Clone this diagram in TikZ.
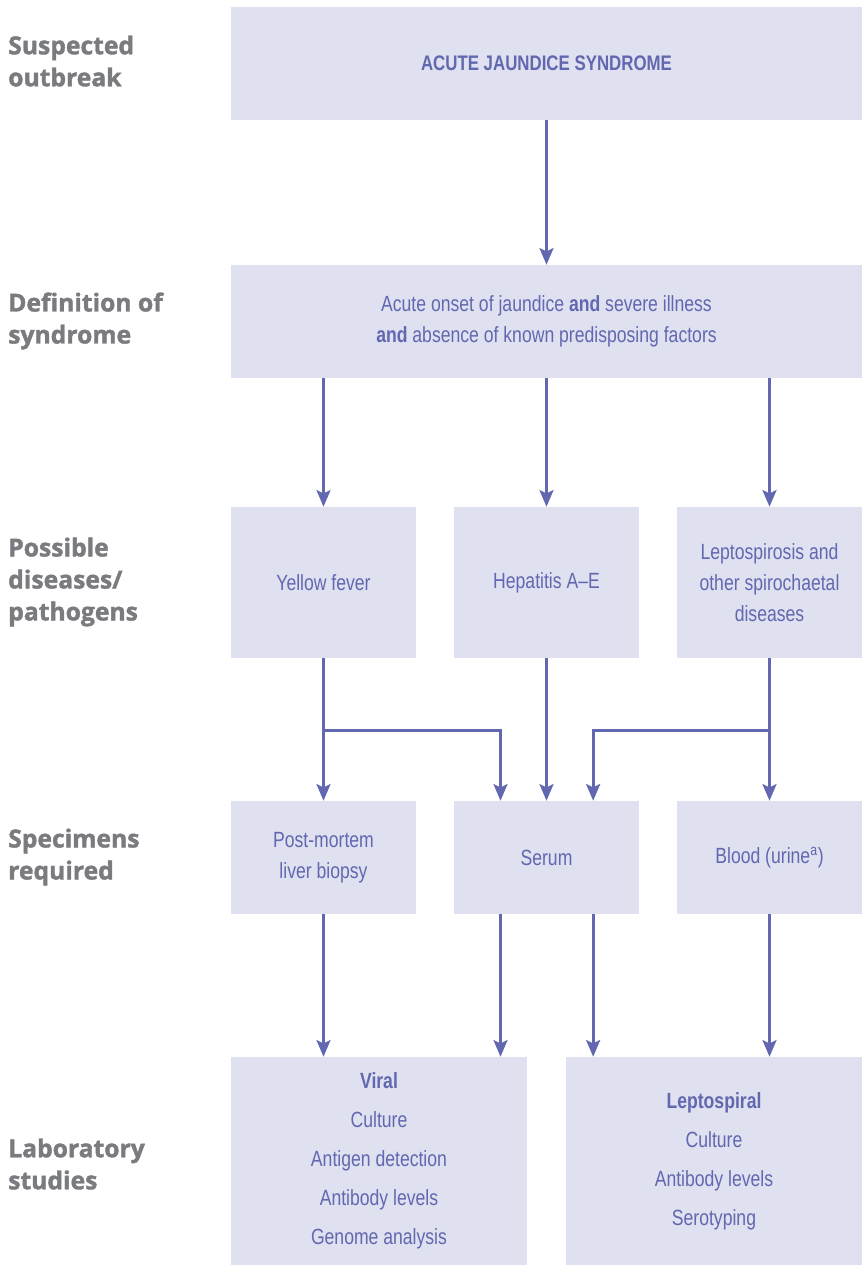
\documentclass[tikz,border=0pt]{standalone}
\usepackage{fontspec}
\setmainfont{Liberation Sans}[FakeStretch=0.8]
\newfontfamily\sidefont{Open Sans}[BoldFeatures={FakeBold=1.6}]
\usetikzlibrary{arrows.meta}

\definecolor{boxfill}{RGB}{223,224,240}
\definecolor{boxtext}{RGB}{98,104,176}
\definecolor{sidegray}{RGB}{122,123,127}

\begin{document}
\begin{tikzpicture}[
        x=0.75pt, y=-0.75pt,
        bnode/.style={rectangle, fill=boxfill, text=boxtext, align=center, inner sep=0pt, font=\fontsize{16.5}{23.5}\selectfont},
        wnode/.style={bnode, minimum width=473.25pt, minimum height=84.75pt},
        dnode/.style={bnode, minimum width=138.75pt, minimum height=113.25pt},
        snode/.style={bnode, minimum width=138.75pt, minimum height=84.75pt},
        labnode/.style={bnode, minimum width=222pt, minimum height=156pt, font=\fontsize{16.5}{29.25}\selectfont},
        side/.style={anchor=west, align=left, inner sep=0pt, text=sidegray, font=\sidefont\bfseries\fontsize{18.5}{24}\selectfont},
        arr/.style={draw=boxtext, line width=2.25pt, -{Stealth[length=12.5pt, width=10.5pt, inset=2.5pt]}},
      ]
        \useasboundingbox (0,0) rectangle (862,1265);

        % row labels
        \node[side] (l1) at (8,61)   {Suspected\\outbreak};
        \node[side] (l2) at (8,321)  {Definition of\\syndrome};
        \node[side] (l3) at (8,582)  {Possible\\diseases/\\pathogens};
        \node[side] (l4) at (8,857)  {Specimens\\required};
        \node[side] (l5) at (8,1164) {Laboratory\\studies};

        \node[wnode] (ajs) at (546.5,63.5)  {\fontsize{15.8}{20}\selectfont\textbf{ACUTE JAUNDICE SYNDROME}};
        \node[wnode] (def) at (546.5,321.5) {Acute onset of jaundice \textbf{and} severe illness\\\textbf{and} absence of known predisposing factors};

        \node[dnode] (yf)  at (323.5,582.5) {Yellow fever};
        \node[dnode] (hep) at (546.5,582.5) {Hepatitis A--E};
        \node[dnode] (lep) at (769.5,582.5) {Leptospirosis and\\other spirochaetal\\diseases};

        \node[snode] (pm)    at (323.5,857.5) {Post-mortem\\liver biopsy};
        \node[snode] (serum) at (546.5,857.5) {Serum};
        \node[snode] (blood) at (769.5,857.5) {Blood (urine\textsuperscript{a})};

        \node[labnode] (viral) at (379,1161) {\textbf{Viral}\\Culture\\Antigen detection\\Antibody levels\\Genome analysis};
        \node[labnode] (lspl)  at (714,1161) {\textbf{Leptospiral}\\Culture\\Antibody levels\\Serotyping};

        \coordinate (yfsplit)  at (323.5,730);
        \coordinate (lepsplit) at (769.5,730);

        \draw[arr] (ajs) -- (def);
        \draw[arr] (def.south -| yf.north)  -- (yf.north);
        \draw[arr] (def) -- (hep);
        \draw[arr] (def.south -| lep.north) -- (lep.north);

        \draw[arr] (yf) -- (pm);
        \draw[arr] (yfsplit) -| ([xshift=-34.5pt]serum.north);
        \draw[arr] (hep) -- (serum);
        \draw[arr] (lepsplit) -| ([xshift=35pt]serum.north);
        \draw[arr] (lep) -- (blood);

        \draw[arr] (pm.south) -- (pm.south |- viral.north);
        \draw[arr] ([xshift=-34.5pt]serum.south) -- ([xshift=-34.5pt]serum.south |- viral.north);
        \draw[arr] ([xshift=35pt]serum.south) -- ([xshift=35pt]serum.south |- lspl.north);
        \draw[arr] (blood.south) -- (blood.south |- lspl.north);
      \end{tikzpicture}
\end{document}
